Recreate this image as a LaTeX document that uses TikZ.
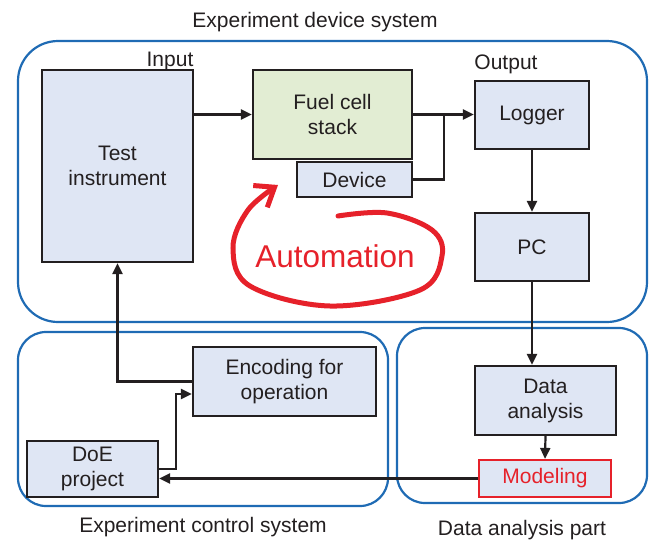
\documentclass[tikz,border=0pt]{standalone}
\usepackage{fontspec}
\setmainfont{Liberation Sans}
\usetikzlibrary{arrows.meta}
\definecolor{frameblue}{HTML}{1F6BB4}
\definecolor{boxblue}{HTML}{DFE6F4}
\definecolor{boxgreen}{HTML}{E2EDD3}
\definecolor{autored}{HTML}{E6212A}
\definecolor{ink}{HTML}{231F20}

\begin{document}
\begin{tikzpicture}[x=1pt, y=-1pt,
    every node/.style={font=\fontsize{21}{25}\selectfont, text=ink},
    group/.style={draw=frameblue, line width=2.2pt, rounded corners=28pt},
    block/.style={draw=ink, line width=2.2pt, fill=boxblue, align=center, inner sep=0pt},
    link/.style={draw=ink, line width=2.2pt, -{Triangle[length=11pt, width=10pt]}}]
    \useasboundingbox (0,0) rectangle (649,542);
    \draw[group, rounded corners=40pt] (18,41) rectangle (647,322);
    \draw[group] (18,332) rectangle (388,506);
    \draw[group] (397,328) rectangle (647,503);
    \node[anchor=base] (devsys) at (315,27) {Experiment device system};
    \node[anchor=base] (ctrlsys) at (203,532) {Experiment control system};
    \node[anchor=base] (anapart) at (522,535) {Data analysis part};
    \node[anchor=base] (input) at (170,66) {Input};
    \node[anchor=base] (output) at (506,69) {Output};

    \node[block, minimum width=151pt, minimum height=192pt] (test) at (117.5,166) {Test\\instrument};
    \node[block, fill=boxgreen, minimum width=159pt, minimum height=89pt] (stack) at (332.5,114.5) {Fuel cell\\stack};
    \node[block, minimum width=115pt, minimum height=35pt] (device) at (354.5,179.5) {Device};
    \node[block, minimum width=114pt, minimum height=68pt] (logger) at (532,115) {Logger};
    \node[block, minimum width=114pt, minimum height=68pt] (pc) at (532,247) {PC};
    \node[block, minimum width=141pt, minimum height=69pt] (analysis) at (545.5,400.5) {Data\\analysis};
    \node[block, draw=autored, text=autored, minimum width=132pt, minimum height=37pt] (model) at (545,478.5) {Modeling};
    \node[block, minimum width=183pt, minimum height=69pt] (encode) at (284.5,381.5) {Encoding for\\operation};
    \node[block, minimum width=131pt, minimum height=56pt] (doe) at (92.5,469) {DoE\\project};
    \coordinate (join) at (444,114.5);

    \draw[link] (test.east |- stack.west) -- (stack.west);
    \draw[link] (stack.east) -- (stack.east -| logger.west);
    \draw[ink, line width=2.2pt] (device.east) -| (join);
    \draw[link] (logger.south) -- (pc.north);
    \draw[link] (pc.south) -- (pc.south |- analysis.north);
    \draw[link] (analysis.south) -- (model.north);
    \draw[link] (model.west) -- (model.west -| doe.east);
    \draw[link] (doe.east) -- ++(17,0) |- ([yshift=-12.5pt]encode.west);
    \draw[link] (encode.west) -| (test.south);

    \node[anchor=base, text=autored, font=\fontsize{31.5}{36}\selectfont] (auto) at (335,267) {Automation};
    \draw[autored, line width=5pt, line cap=round, -{Straight Barb[length=17pt, width=26pt]}]
        plot[smooth, tension=0.6] coordinates {(338,216) (387,213) (432,230) (442,256) (420,290)
        (330,306) (250,286) (233,248) (248,210) (278,185)};
\end{tikzpicture}
\end{document}
